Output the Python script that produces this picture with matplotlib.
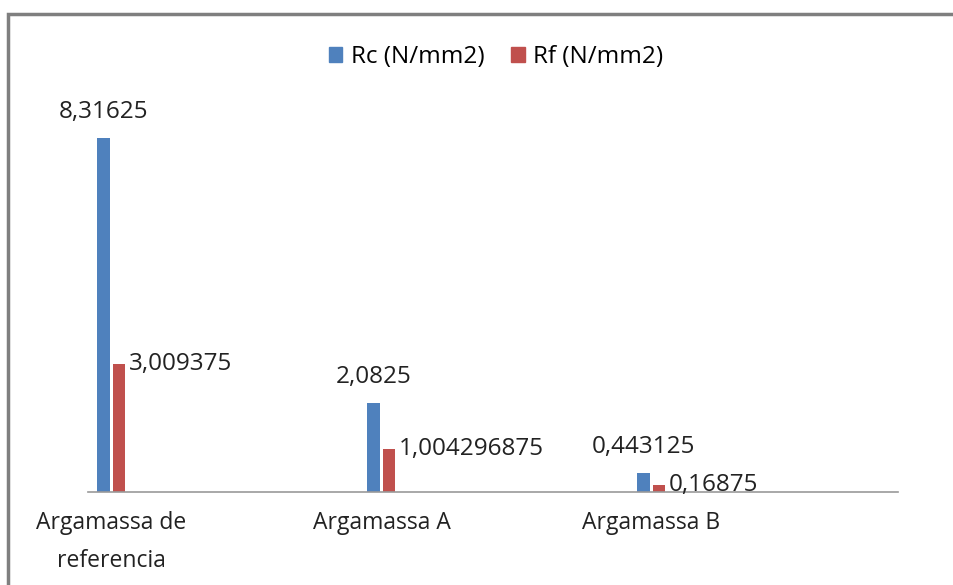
import matplotlib.pyplot as plt
from matplotlib.patches import Rectangle, Patch

# Donnees
categorias = ["Argamassa de\nreferencia", "Argamassa A", "Argamassa B"]
rc = [8.31625, 2.0825, 0.443125]
rf = [3.009375, 1.004296875, 0.16875]
series = ["Rc (N/mm2)", "Rf (N/mm2)"]

azul = '#4F81BD'
vermelho = '#C0504D'

plt.rcParams['font.family'] = ['Open Sans', 'DejaVu Sans']

fig = plt.figure(figsize=(9.54, 5.85), dpi=100)
ax = fig.add_axes([88 / 954, 1 - 492 / 585, 810 / 954, 383 / 585])

x = list(range(len(categorias)))
larg = 0.046
xa = [i - 0.029 for i in x]
xv = [i + 0.027 for i in x]
ax.bar(xa, rc, larg, color=azul)
ax.bar(xv, rf, larg, color=vermelho)

fmt = lambda v: str(v).replace('.', ',')
for xi, v in zip(xa, rc):
    ax.annotate(fmt(v), (xi, v), xytext=(0, 19), textcoords='offset points',
                ha='center', va='center', fontsize=17.5, color='#222222')
for xi, v in zip(xv, rf):
    ax.annotate(fmt(v), (xi + larg / 2, v), xytext=(3, 0), textcoords='offset points',
                ha='left', va='center', fontsize=17.5, color='#222222')

ax.set_xlim(-0.087, 2.913)
ax.set_ylim(0, 9)
ax.set_xticks(x)
ax.set_xticklabels(categorias, fontsize=16.5, color='#222222', linespacing=1.75)
ax.tick_params(axis='x', length=0, pad=14)
ax.set_yticks([])
for s in ['top', 'left', 'right']:
    ax.spines[s].set_visible(False)
ax.spines['bottom'].set_color('#999999')
ax.spines['bottom'].set_linewidth(1.2)

# Legende
hs = [Patch(color=azul), Patch(color=vermelho)]
fig.legend(hs, series, loc='center', bbox_to_anchor=(0.52, 1 - 57 / 585), ncol=2,
           frameon=False, fontsize=17.5, handlelength=0.55, handleheight=0.55,
           handletextpad=0.35, columnspacing=1.1)

# Cadre
fig.patches.append(Rectangle((8 / 954, -0.1), 1.1, 1 - 14 / 585 + 0.1,
                             transform=fig.transFigure, fill=False,
                             edgecolor='#7f7f7f', linewidth=2.5, clip_on=False))

fig.savefig('out.png', dpi=100)
